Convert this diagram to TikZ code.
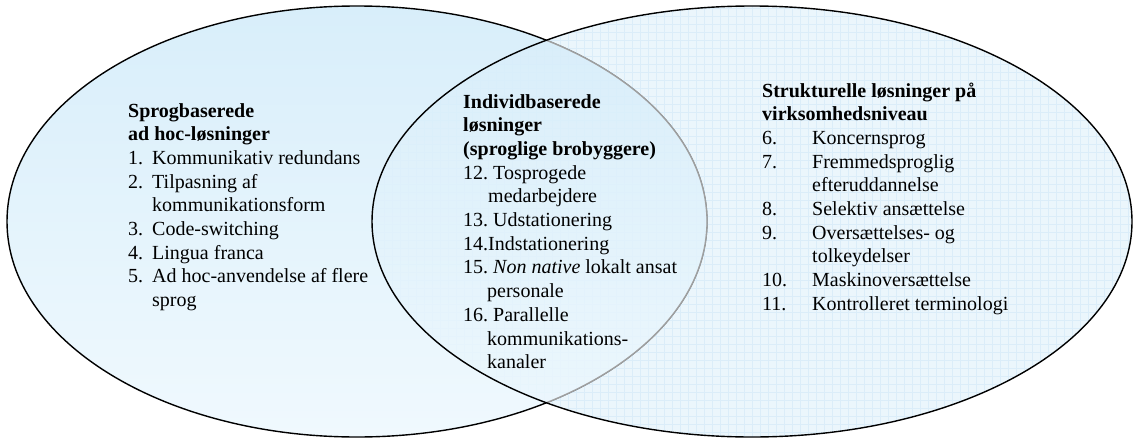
\documentclass[tikz,border=0pt]{standalone}
\usepackage{fontspec}
\setmainfont{Liberation Serif}
\usepackage{tikz}
\usetikzlibrary{positioning}

\definecolor{vennblue}{RGB}{216,238,250}
\definecolor{vennpale}{RGB}{240,249,254}
\definecolor{gridblue}{RGB}{170,210,240}

\newcommand{\itemno}[2]{\makebox[#1][l]{#2}}
\frenchspacing

\begin{document}
\begin{tikzpicture}[x=1pt, y=-1pt, every node/.style={inner sep=0pt, anchor=base west, align=left, font=\fontsize{20}{23.7}\selectfont}]
	\tikzstyle{venn}=[draw=black, line width=1.4pt]
	\tikzstyle{leftset}=[x radius=350, y radius=215.5]
	\tikzstyle{rightset}=[x radius=380, y radius=215.5]
	\useasboundingbox (0,0) rectangle (1134,439);
	
	% left set
	\path[top color=vennblue, bottom color=vennpale] (357,221.5) ellipse [leftset];
	\draw[venn] (357,221.5) ellipse [leftset];
	
	% right set, half transparent over the left one
	\fill[vennblue, fill opacity=0.5] (752,221.5) ellipse [rightset];
	\begin{scope}
		\clip (752,221.5) ellipse [rightset];
		\draw[gridblue, opacity=0.25, line width=0.4pt, step=8pt] (360,0) grid (1134,439);
		% overlap: smooth it out, grey rim of the left set
		\path[top color=vennblue, bottom color=vennpale, fill opacity=0.8] (357,221.5) ellipse [leftset];
		\draw[gray!75, line width=1.3pt] (357,221.5) ellipse [leftset];
	\end{scope}
	\draw[venn] (752,221.5) ellipse [rightset];
	
	% nodes are set on the baseline of their last line
	\node (sprog) at (128,306.6) {\textbf{Sprogbaserede}\\
		\textbf{ad hoc-løsninger}\\
		\itemno{24pt}{1.}Kommunikativ redundans\\
		\itemno{24pt}{2.}Tilpasning af\\
		\hspace*{24pt}kommunikationsform\\
		\itemno{24pt}{3.}Code-switching\\
		\itemno{24pt}{4.}Lingua franca\\
		\itemno{24pt}{5.}Ad hoc-anvendelse af flere\\
		\hspace*{24pt}sprog};
	
	\node (individ) at (463,368.7) {\textbf{Individbaserede}\\
		\textbf{løsninger}\\
		\textbf{(sproglige brobyggere)}\\
		12. Tosprogede\\
		\hspace*{25pt}medarbejdere\\
		13. Udstationering\\
		14.Indstationering\\
		15. \textit{Non native} lokalt ansat\\
		\hspace*{24pt}personale\\
		16. Parallelle\\
		\hspace*{24pt}kommunikations-\\
		\hspace*{24pt}kanaler};
	
	\node (struktur) at (762,310.3) {\textbf{Strukturelle løsninger på}\\
		\textbf{virksomhedsniveau}\\
		\itemno{50pt}{6.}Koncernsprog\\
		\itemno{50pt}{7.}Fremmedsproglig\\
		\hspace*{50pt}efteruddannelse\\
		\itemno{50pt}{8.}Selektiv ansættelse\\
		\itemno{50pt}{9.}Oversættelses- og\\
		\hspace*{50pt}tolkeydelser\\
		\itemno{50pt}{10.}Maskinoversættelse\\
		\itemno{50pt}{11.}Kontrolleret terminologi};
\end{tikzpicture}
\end{document}
